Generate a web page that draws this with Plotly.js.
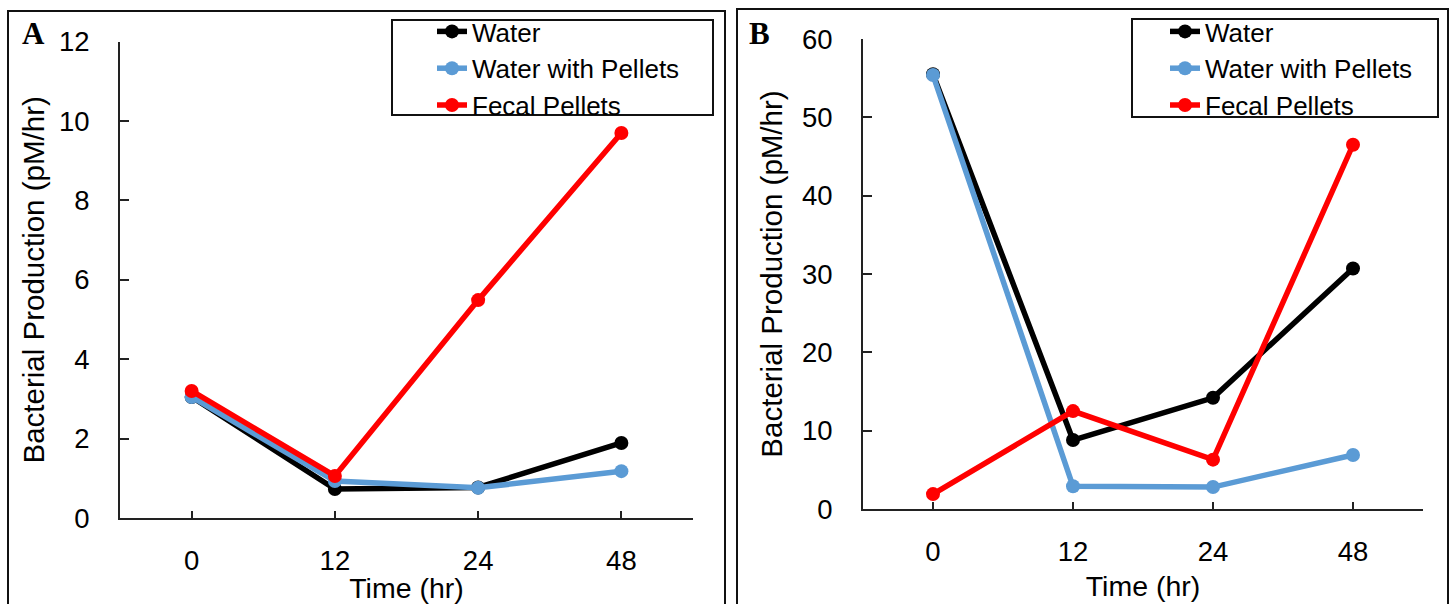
<!DOCTYPE html>
<html>
<head>
<meta charset="utf-8">
<script src="https://cdn.plot.ly/plotly-3.0.1.min.js"></script>
<style>html,body{margin:0;padding:0;background:#fff;}#chart{width:1455px;height:604px;}</style>
</head>
<body>
<div id="chart"></div>
<script>
// ---- data ----
const timeLabels = ['0', '12', '24', '48'];
const seriesNames = ['Water', 'Water with Pellets', 'Fecal Pellets'];
const seriesColors = ['#000000', '#5B9BD5', '#FF0000'];

// Panel A (pM/hr)
const aWater = [3.05, 0.73, 0.77, 1.89];
const aWaterPellets = [3.05, 0.93, 0.76, 1.18];
const aFecal = [3.2, 1.06, 5.49, 9.7];

// Panel B (pM/hr)
const bWater = [55.5, 8.8, 14.2, 30.7];
const bWaterPellets = [55.4, 2.9, 2.8, 6.9];
const bFecal = [1.9, 12.5, 6.3, 46.5];

const yTicksA = [0, 2, 4, 6, 8, 10, 12];
const yTicksB = [0, 10, 20, 30, 40, 50, 60];

// ---- helpers ----
const W = 1455, H = 604;
const px = v => v / W;
const py = v => 1 - v / H;
const xIdx = timeLabels.map((_, i) => i);
const FONT = 'Liberation Sans, Arial, sans-serif';

function mk(name, y, color, xa, ya, legend) {
  return {
    x: xIdx, y: y, name: name, type: 'scatter', mode: 'lines+markers',
    xaxis: xa, yaxis: ya, legend: legend,
    line: {color: color, width: 5.5},
    marker: {color: color, size: 14},
    hoverinfo: 'x+y+name'
  };
}

const dataA = [aWater, aWaterPellets, aFecal];
const dataB = [bWater, bWaterPellets, bFecal];
const traces = [];
dataA.forEach((d, i) => traces.push(mk(seriesNames[i], d, seriesColors[i], 'x', 'y', 'legend')));
dataB.forEach((d, i) => traces.push(mk(seriesNames[i], d, seriesColors[i], 'x2', 'y2', 'legend2')));

function xAxis(domain, anchor, standoff) {
  return {
    domain: domain, anchor: anchor, range: [-0.5, timeLabels.length - 0.5],
    tickmode: 'array',
    tickvals: xIdx.concat([timeLabels.length - 0.5]),
    ticktext: timeLabels.concat(['']),
    ticks: 'inside', ticklen: 7, tickwidth: 1.5, tickcolor: '#222',
    showline: true, linecolor: '#222', linewidth: 2,
    showgrid: false, zeroline: false, fixedrange: true,
    ticklabelstandoff: 17,
    tickfont: {family: FONT, size: 27.5, color: '#000'},
    title: {text: 'Time (hr)', font: {family: FONT, size: 28.5, color: '#000'}, standoff: standoff}
  };
}
function yAxis(domain, anchor, range, ticks, standoff) {
  return {
    domain: domain, anchor: anchor, range: range,
    tickmode: 'array', tickvals: ticks,
    ticks: 'inside', ticklen: 9, tickwidth: 1.5, tickcolor: '#222',
    showline: true, linecolor: '#222', linewidth: 2,
    showgrid: false, zeroline: false, fixedrange: true,
    ticklabelstandoff: 23,
    tickfont: {family: FONT, size: 27.5, color: '#000'},
    title: {text: 'Bacterial Production (pM/hr)', font: {family: FONT, size: 29.5, color: '#000'}, standoff: standoff}
  };
}

const legendCommon = {
  xanchor: 'left', yanchor: 'top', orientation: 'v',
  bgcolor: 'rgba(0,0,0,0)', borderwidth: 0,
  font: {family: FONT, size: 26, color: '#000'},
  itemclick: false, itemdoubleclick: false
};

const layout = {
  width: W, height: H,
  margin: {l: 0, r: 0, t: 0, b: 0},
  paper_bgcolor: '#fff', plot_bgcolor: 'rgba(0,0,0,0)',
  showlegend: true,
  xaxis: xAxis([px(120), px(693)], 'y', 0),
  yaxis: yAxis([1 - 518 / H, 1 - 41.7 / H], 'x', [0, 12], yTicksA, 6),
  xaxis2: xAxis([px(863), px(1423)], 'y2', 10),
  yaxis2: yAxis([1 - 509 / H, 1 - 39 / H], 'x2', [0, 60], yTicksB, 11),
  legend: Object.assign({x: px(432), y: py(8)}, legendCommon),
  legend2: Object.assign({x: px(1165), y: py(8)}, legendCommon),
  shapes: [
    // panel frames
    {type: 'rect', xref: 'paper', yref: 'paper', x0: px(8), x1: px(725), y0: -0.05, y1: py(11), line: {color: '#111', width: 2}},
    {type: 'rect', xref: 'paper', yref: 'paper', x0: px(737), x1: px(1448), y0: -0.05, y1: py(9), line: {color: '#111', width: 2}},
    // legend frames
    {type: 'rect', xref: 'paper', yref: 'paper', x0: px(392), x1: px(713), y0: py(115), y1: py(20), line: {color: '#111', width: 2}},
    {type: 'rect', xref: 'paper', yref: 'paper', x0: px(1132), x1: px(1438), y0: py(117), y1: py(19), line: {color: '#111', width: 2}}
  ],
  annotations: [
    {text: '<b>A</b>', xref: 'paper', yref: 'paper', x: px(20), y: py(34), xanchor: 'left', yanchor: 'middle', showarrow: false,
     font: {family: 'Liberation Serif, Times New Roman, serif', size: 31, color: '#000'}},
    {text: '<b>B</b>', xref: 'paper', yref: 'paper', x: px(747), y: py(34), xanchor: 'left', yanchor: 'middle', showarrow: false,
     font: {family: 'Liberation Serif, Times New Roman, serif', size: 31, color: '#000'}}
  ]
};

Plotly.newPlot('chart', traces, layout, {displayModeBar: false, staticPlot: false});
</script>
</body>
</html>
